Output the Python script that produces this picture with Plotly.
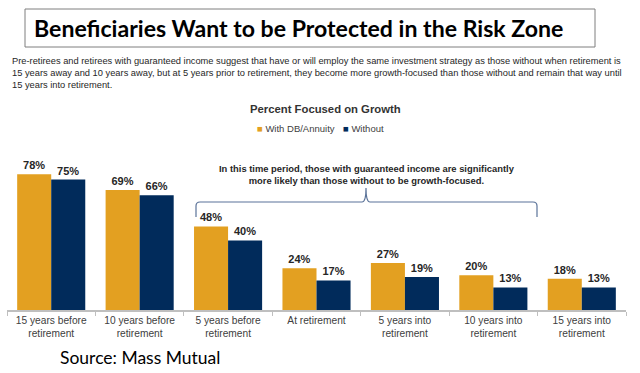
import plotly.graph_objects as go

categories = ["15 years before<br>retirement", "10 years before<br>retirement", "5 years before<br>retirement",
              "At retirement", "5 years into<br>retirement", "10 years into<br>retirement", "15 years into<br>retirement"]
with_db = [78, 69, 48, 24, 27, 20, 18]
without = [75, 66, 40, 17, 19, 13, 13]
series_names = ["With DB/Annuity", "Without"]

GOLD = "#E3A021"
NAVY = "#012B5B"
W, H = 640, 373
L, R, T, B = 7, 14, 0, 63
PW, PH = W - L - R, H - T - B

def px(x):
    return (x - L) / PW

def py(y):
    return (H - B - y) / PH

fig = go.Figure()
for name, vals, col in [(series_names[0], with_db, GOLD), (series_names[1], without, NAVY)]:
    fig.add_trace(go.Bar(
        x=categories, y=vals, name=name, marker=dict(color=col, line=dict(width=0)),
        texttemplate="<b>%{y}%</b>", textposition="outside",
        textfont=dict(family="Liberation Sans", size=11, color="#262626"),
        cliponaxis=False, hoverinfo="skip", showlegend=False))

fig.update_layout(
    width=W, height=H, margin=dict(l=L, r=R, t=T, b=B, pad=0),
    paper_bgcolor="white", plot_bgcolor="white",
    barmode="group", bargap=0.23, bargroupgap=0,
    font=dict(family="Liberation Sans", color="#404040"),
    xaxis=dict(showline=True, linecolor="#BFBFBF", linewidth=1.5, ticks="outside",
               tickson="boundaries", ticklen=4, tickcolor="#BFBFBF",
               tickfont=dict(family="Liberation Sans", size=10.2, color="#404040"),
               showgrid=False),
    yaxis=dict(range=[0, PH / 1.74], visible=False, showgrid=False, zeroline=False),
)

# Title box and title
fig.add_shape(type="rect", xref="paper", yref="paper", x0=px(25), x1=px(595), y0=py(9), y1=py(47),
              line=dict(color="#7F7F7F", width=1), fillcolor="white", layer="below")
fig.add_annotation(text="<b>Beneficiaries Want to be Protected in the Risk Zone</b>", xref="paper", yref="paper",
                   x=px(298), y=py(28), xanchor="center", yanchor="middle", showarrow=False,
                   font=dict(family="Lato", size=23.1, color="#000000"))

fig.add_annotation(text=("Pre-retirees and retirees with guaranteed income suggest that have or will employ the same investment strategy as those without when retirement is<br>"
                         "15 years away and 10 years away, but at 5 years prior to retirement, they become more growth-focused than those without and remain that way until<br>"
                         "15 years into retirement."),
                   xref="paper", yref="paper", x=px(10), y=py(53.5), xanchor="left", yanchor="top", align="left",
                   showarrow=False, font=dict(family="Liberation Sans", size=9.3, color="#262626"))

fig.add_annotation(text="<b>Percent Focused on Growth</b>", xref="paper", yref="paper", x=px(325), y=py(109),
                   xanchor="center", yanchor="middle", showarrow=False,
                   font=dict(family="Liberation Sans", size=11.3, color="#333333"))

# legend (manual, matching the reference's compact layout)
fig.add_annotation(text=f"<span style='color:{GOLD}'>■</span> {series_names[0]}", xref="paper", yref="paper",
                   x=px(255), y=py(128), xanchor="left", yanchor="middle", showarrow=False,
                   font=dict(family="Liberation Sans", size=9.5, color="#404040"))
fig.add_annotation(text=f"<span style='color:{NAVY}'>■</span> {series_names[1]}", xref="paper", yref="paper",
                   x=px(341), y=py(128), xanchor="left", yanchor="middle", showarrow=False,
                   font=dict(family="Liberation Sans", size=9.5, color="#404040"))

fig.add_annotation(text="<b>In this time period, those with guaranteed income are significantly<br>more likely than those without to be growth-focused.</b>",
                   xref="paper", yref="paper", x=px(367), y=py(175), xanchor="center", yanchor="middle",
                   showarrow=False, align="center",
                   font=dict(family="Liberation Sans", size=9.4, color="#262626"))

# curly bracket
bx0, bx1, bxm, by_top, by_bot, by_tip = 196, 537, 366, 202, 217, 188
path = (f"M {px(bx0)},{py(by_bot)} L {px(bx0)},{py(by_top+4)} Q {px(bx0)},{py(by_top)} {px(bx0+4)},{py(by_top)} "
        f"L {px(bxm-4)},{py(by_top)} Q {px(bxm)},{py(by_top)} {px(bxm)},{py(by_tip)} "
        f"Q {px(bxm)},{py(by_top)} {px(bxm+4)},{py(by_top)} L {px(bx1-4)},{py(by_top)} "
        f"Q {px(bx1)},{py(by_top)} {px(bx1)},{py(by_top+4)} L {px(bx1)},{py(by_bot)}")
fig.add_shape(type="path", path=path, xref="paper", yref="paper", line=dict(color="#5B7399", width=1.2))

fig.add_annotation(text="Source: Mass Mutual", xref="paper", yref="paper", x=px(58), y=py(357),
                   xanchor="left", yanchor="middle", showarrow=False,
                   font=dict(family="Lato", size=17.5, color="#000000"))

fig.write_html("out.html", config={"displayModeBar": False},
               post_script="document.body.style.margin='0';")
